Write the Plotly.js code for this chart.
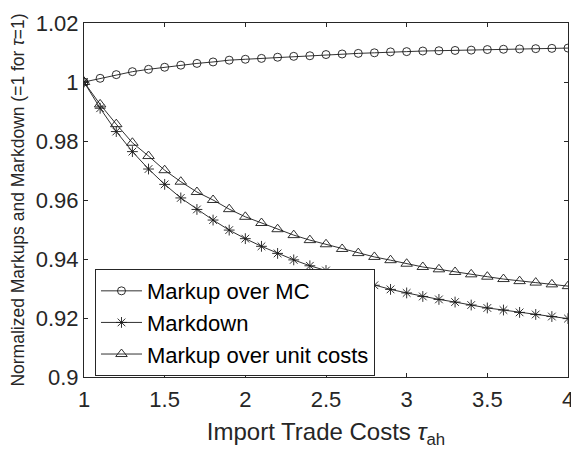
<!DOCTYPE html>
<html><head><meta charset="utf-8">
<script src="https://cdn.plot.ly/plotly-3.0.1.min.js"></script>
<style>html,body{margin:0;padding:0;background:#fff}#chart{width:571px;height:450px}</style>
</head><body><div id="chart"></div>
<script>
const tau = [1.0,1.1,1.2,1.3,1.4,1.5,1.6,1.7,1.8,1.9,2.0,2.1,2.2,2.3,2.4,2.5,2.6,2.7,2.8,2.9,3.0,3.1,3.2,3.3,3.4,3.5,3.6,3.7,3.8,3.9,4.0];
const markupMC = [1.0,1.00125,1.0025,1.0035,1.0043,1.0050,1.0057,1.0063,1.0068,1.0074,1.0077,1.0080,1.0084,1.0087,1.0089,1.0093,1.0095,1.0097,1.0099,1.0102,1.0103,1.0105,1.0106,1.0107,1.0108,1.0110,1.0111,1.0112,1.0113,1.0114,1.0115];
const markdown = [1.0,0.9911,0.9832,0.9764,0.9705,0.9653,0.9607,0.9568,0.9532,0.9498,0.9469,0.9443,0.9419,0.9397,0.9377,0.9361,0.9342,0.9327,0.9311,0.9297,0.9285,0.9273,0.9263,0.9254,0.9244,0.9234,0.9227,0.9219,0.9212,0.9205,0.9198];
const markupUC = [1.0,0.9924,0.9857,0.9794,0.9749,0.9701,0.9662,0.9627,0.9600,0.9569,0.9543,0.9522,0.9501,0.9481,0.9464,0.9450,0.9434,0.9420,0.9407,0.9396,0.9384,0.9373,0.9365,0.9356,0.9348,0.9340,0.9332,0.9325,0.9320,0.9314,0.9308];
const seriesNames = ['Markup over MC','Markdown','Markup over unit costs'];
const xTicks = [1,1.5,2,2.5,3,3.5,4];
const yTicks = [0.9,0.92,0.94,0.96,0.98,1,1.02];

const lineCol = '#1a1a1a';
const font = 'Liberation Sans, Arial, sans-serif';
function tr(y, name, sym, size){
  return {x: tau, y: y, name: name, type:'scatter', mode:'lines+markers',
    line:{color:lineCol, width:0.9},
    marker:{symbol:sym, size:size, color:lineCol, line:{color:lineCol, width:0.9}}};
}
const data = [
  tr(markupMC, seriesNames[0], 'circle-open', 8),
  tr(markdown, seriesNames[1], 'asterisk-open', 9),
  tr(markupUC, seriesNames[2], 'triangle-up-open', 10)
];
const axCol = '#262626';
const layout = {
  width:571, height:450,
  margin:{l:84, r:3, t:23, b:73},
  paper_bgcolor:'#fff', plot_bgcolor:'#fff',
  font:{family:font, color:axCol, size:22},
  showlegend:true,
  legend:{x:0.0227, y:0.305, xanchor:'left', yanchor:'top',
    bgcolor:'#fff', bordercolor:axCol, borderwidth:1, itemwidth:41,
    font:{family:font, size:22, color:'#000'}, tracegroupgap:0},
  xaxis:{range:[1,4.00001], tickvals:xTicks, ticks:'inside', ticklen:4, tickcolor:axCol,
    showline:true, linecolor:axCol, linewidth:1, mirror:'ticks', showgrid:false, zeroline:false,
    ticklabeloverflow:'allow', ticklabelstandoff:3,
    tickfont:{size:22, color:axCol},
    title:{text:'Import Trade Costs <i>τ</i><sub>ah</sub>', font:{size:24, color:axCol}, standoff:11}},
  yaxis:{range:[0.9,1.02], tickvals:yTicks, ticks:'inside', ticklen:4, tickcolor:axCol,
    showline:true, linecolor:axCol, linewidth:1, mirror:'ticks', showgrid:false, zeroline:false,
    tickfont:{size:22, color:axCol},
    title:{text:'Normalized Markups and Markdown (=1 for <i>τ</i>=1)', font:{size:17.5, color:axCol}, standoff:6}}
};
Plotly.newPlot('chart', data, layout, {displayModeBar:false, staticPlot:true});
</script></body></html>
